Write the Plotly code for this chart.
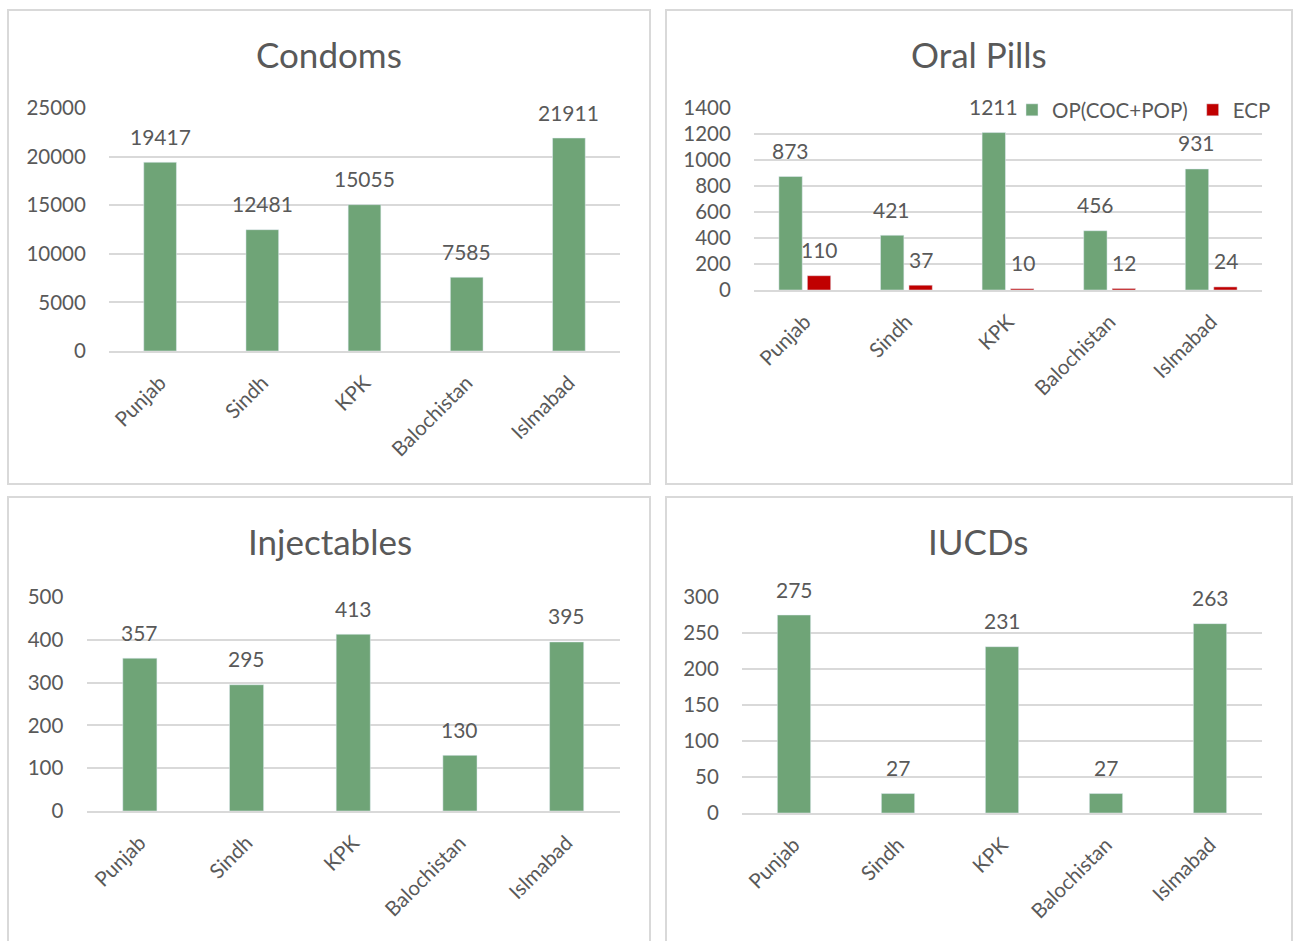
import plotly.graph_objects as go

regions = ["Punjab", "Sindh", "KPK", "Balochistan", "Islmabad"]
condoms = [19417, 12481, 15055, 7585, 21911]
op_coc_pop = [873, 421, 1211, 456, 931]
ecp = [110, 37, 10, 12, 24]
injectables = [357, 295, 413, 130, 395]
iucds = [275, 27, 231, 27, 263]

GREEN = "#6FA477"
RED = "#C00000"
GRID = "#D9D9D9"
TXT = "#595959"
FONT = "Lato"
W, H = 1293, 941

def px(x):
    return x / W

def py(y):
    return 1 - y / H

fig = go.Figure()

panels = [
    ("x", "y", (109, 620), (108, 351), 25000, 5000),
    ("x2", "y2", (754, 1262), (108, 290), 1400, 200),
    ("x3", "y3", (86.5, 620), (597, 811), 500, 100),
    ("x4", "y4", (742, 1262), (597, 813), 300, 50),
]

LBL = dict(family=FONT, size=21, color=TXT)

for (xa, ya, vals) in [("x", "y", condoms), ("x3", "y3", injectables), ("x4", "y4", iucds)]:
    fig.add_trace(go.Bar(x=regions, y=vals, marker_color=GREEN, xaxis=xa, yaxis=ya,
                         showlegend=False, width=0.32))
    for r, v in zip(regions, vals):
        fig.add_annotation(x=r, y=v, xref=xa, yref=ya, text=str(v), showarrow=False,
                           yshift=26, font=LBL)

fig.add_trace(go.Bar(x=regions, y=op_coc_pop, name="OP(COC+POP)", marker_color=GREEN,
                     xaxis="x2", yaxis="y2", offsetgroup="a", width=0.23, offset=-0.255))
fig.add_trace(go.Bar(x=regions, y=ecp, name="ECP", marker_color=RED,
                     xaxis="x2", yaxis="y2", offsetgroup="b", width=0.23, offset=0.025))
for r, v in zip(regions, op_coc_pop):
    fig.add_annotation(x=r, y=v, xref="x2", yref="y2", text=str(v), showarrow=False,
                       yshift=26, xshift=-14.5, font=LBL)
for r, v in zip(regions, ecp):
    fig.add_annotation(x=r, y=v, xref="x2", yref="y2", text=str(v), showarrow=False,
                       yshift=26, xshift=14.5, font=LBL)

layout = dict(
    width=W, height=H, margin=dict(l=0, r=0, t=0, b=0, pad=0, autoexpand=False),
    autosize=False,
    paper_bgcolor="white", plot_bgcolor="white",
    font=dict(family=FONT, color=TXT, size=20),
    barmode="overlay",
    legend=dict(orientation="h", x=px(1276), xanchor="right", y=py(110), yanchor="middle",
                font=dict(family=FONT, size=20.5, color=TXT), bgcolor="rgba(0,0,0,0)",
                itemwidth=30, tracegroupgap=0),
)

for i, (xa, ya, (x0, x1), (ytop, ybot), ymax, dt) in enumerate(panels):
    sfx = "" if i == 0 else str(i + 1)
    layout["xaxis" + sfx] = dict(
        domain=[px(x0), px(x1)], anchor=ya, type="category", range=[-0.5, 4.5],
        showgrid=False, showline=True, linecolor=GRID, linewidth=1.5,
        tickangle=-45, ticks="outside", ticklen=10, tickcolor="rgba(0,0,0,0)",
        tickfont=dict(family=FONT, size=20.5, color=TXT), fixedrange=True, automargin=False,
    )
    layout["yaxis" + sfx] = dict(
        domain=[py(ybot), py(ytop)], anchor=xa, range=[0, ymax], dtick=dt, tickformat="d",
        showgrid=True, gridcolor=GRID, gridwidth=1.5, zeroline=False, showline=False,
        ticks="outside", ticklen=18, tickcolor="rgba(0,0,0,0)",
        tickfont=dict(family=FONT, size=20.5, color=TXT), fixedrange=True, automargin=False,
    )

fig.update_layout(**layout)

for (x0, y0, x1, y1) in [(8, 10, 650, 484), (666, 10, 1292, 484), (8, 497, 650, 960), (666, 497, 1292, 960)]:
    fig.add_shape(type="rect", xref="paper", yref="paper", x0=px(x0), x1=px(x1),
                  y0=py(y1), y1=py(y0), line=dict(color=GRID, width=2), layer="below")

for text, cx, cy in [("Condoms", 329, 54), ("Oral Pills", 979, 54), ("Injectables", 330, 541), ("IUCDs", 978, 541)]:
    fig.add_annotation(text=text, x=px(cx), y=py(cy), xref="paper", yref="paper",
                       showarrow=False, xanchor="center", yanchor="middle",
                       font=dict(family=FONT, size=35, color=TXT))

fig.write_html("out.html")
